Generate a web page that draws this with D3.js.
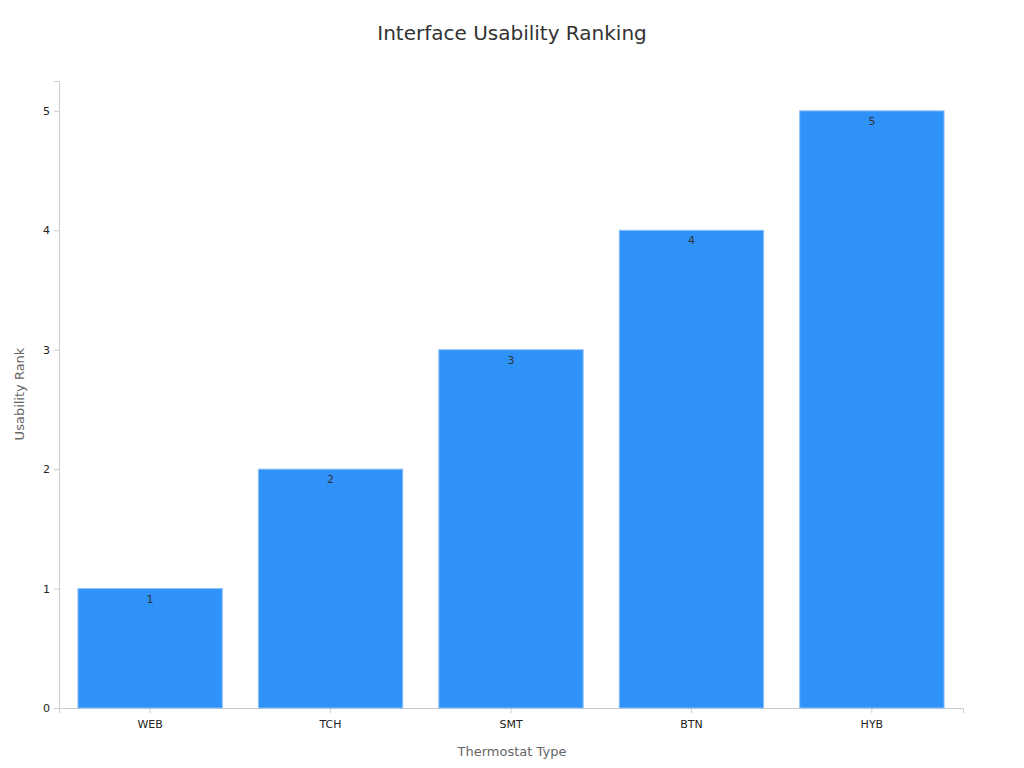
<!DOCTYPE html><html><head><meta charset="utf-8"><script src="https://cdn.jsdelivr.net/npm/d3@7"></script>
<style>body{margin:0;background:#fff}text{font-family:"DejaVu Sans",sans-serif}</style></head><body>
<svg id="c" width="1024" height="768"></svg>
<script>
const categories=["WEB","TCH","SMT","BTN","HYB"];
const values=[1,2,3,4,5];
const yTicks=[0,1,2,3,4,5];
const svg=d3.select("#c");
const m={l:59,r:963,t:81,b:708};
const x=d3.scaleBand().domain(categories).range([m.l,m.r]).paddingInner(0.2).paddingOuter(0.105);
const y=d3.scaleLinear().domain([0,5.25]).range([m.b,m.t]);
svg.append("text").attr("x",512).attr("y",40).attr("text-anchor","middle").attr("font-size",20).attr("fill","#333").text("Interface Usability Ranking");
const ya=svg.append("g").attr("transform",`translate(${m.l},0)`).call(d3.axisLeft(y).tickValues(yTicks).tickFormat(d3.format("d")).tickSize(5).tickPadding(4));
const xa=svg.append("g").attr("transform",`translate(0,${m.b})`).call(d3.axisBottom(x).tickSize(5).tickPadding(7));
[ya,xa].forEach(a=>{a.selectAll(".domain,line").attr("stroke","#ccc");a.selectAll("text").attr("font-size",11).attr("fill","#222").style("font-family","DejaVu Sans");});
svg.selectAll("rect.b").data(values).join("rect").attr("class","b")
 .attr("x",(d,i)=>x(categories[i])).attr("width",x.bandwidth())
 .attr("y",d=>y(d)).attr("height",d=>y(0)-y(d)).attr("fill","#2f92f8").attr("stroke","#8cc0f7").attr("stroke-width",1);
svg.selectAll("text.v").data(values).join("text").attr("class","v")
 .attr("x",(d,i)=>x(categories[i])+x.bandwidth()/2).attr("y",d=>y(d)+14).attr("text-anchor","middle").attr("font-size",11).attr("fill","#333").text(d=>d);
svg.append("text").attr("x",512).attr("y",756).attr("text-anchor","middle").attr("font-size",13).attr("fill","#666").text("Thermostat Type");
svg.append("text").attr("transform","translate(24,394) rotate(-90)").attr("text-anchor","middle").attr("font-size",13).attr("fill","#666").text("Usability Rank");
</script></body></html>
